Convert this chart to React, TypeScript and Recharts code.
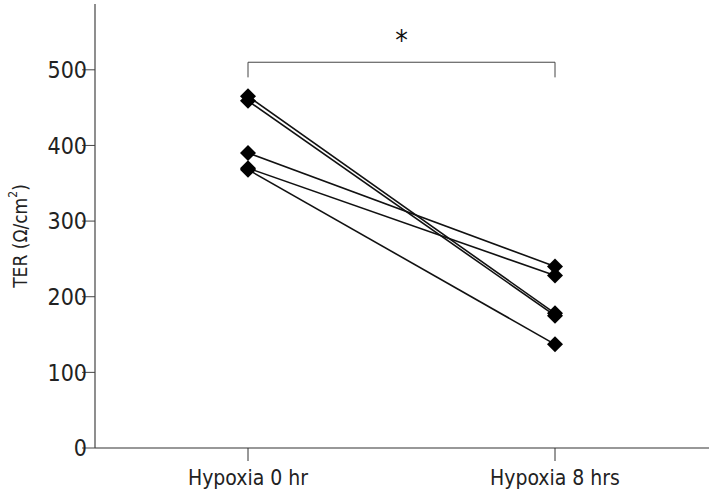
import { LineChart, Line, XAxis, YAxis, ReferenceLine } from 'recharts';

// categories and per-subject values (TER, Ω/cm²)
const timepoints = ['Hypoxia 0 hr', 'Hypoxia 8 hrs'];
const subjectKeys = ['s1', 's2', 's3', 's4', 's5'];
const hr0Values = [465, 459, 390, 370, 368];
const hr8Values = [178, 175, 240, 228, 137];
const yTicks = [0, 100, 200, 300, 400, 500];

const bracketY = 510;
const bracketDrop = 490;

const FONT = '"Liberation Sans Narrow", "DejaVu Sans Condensed", Arial, sans-serif';

const chartData = timepoints.map((t, i) => {
    const row: any = { time: t };
    const vals = i === 0 ? hr0Values : hr8Values;
    subjectKeys.forEach((k, j) => {
        row[k] = vals[j];
    });
    return row;
});

// diamond marker
const Diamond = (props: any) => {
    const { cx, cy, index, dataKey } = props;
    if (cx == null || cy == null) return null;
    const r = 8;
    return (
        <polygon
            key={`${dataKey}-${index}`}
            points={`${cx},${cy - r} ${cx + r},${cy} ${cx},${cy + r} ${cx - r},${cy}`}
            fill="#000"
        />
    );
};

const YLabel = () => {
    const cx = 20;
    const cy = 236;
    return (
        <text
            x={cx}
            y={cy}
            transform={`rotate(-90, ${cx}, ${cy})`}
            textAnchor="middle"
            dominantBaseline="central"
            fill="#222"
            fontSize={19}
            fontFamily={FONT}
        >
            TER (Ω/cm<tspan dy={-7} fontSize={12}>2</tspan>
            <tspan dy={7}>)</tspan>
        </text>
    );
};

export default function App() {
    return (
        <div style={{ position: 'absolute', left: 0, top: 0, background: '#fff' }}>
            <LineChart
                width={714}
                height={496}
                data={chartData}
                margin={{ top: 4, right: 5, left: 0, bottom: 0 }}
            >
                <XAxis
                    dataKey="time"
                    type="category"
                    padding={{ left: 153, right: 154 }}
                    height={48}
                    tickSize={13}
                    tickMargin={9}
                    tick={{ fill: '#222', fontSize: 21, fontFamily: FONT }}
                    axisLine={{ stroke: '#333', strokeWidth: 1.2 }}
                    tickLine={{ stroke: '#333' }}
                />
                <XAxis
                    xAxisId="top"
                    dataKey="time"
                    orientation="top"
                    height={0}
                    tick={false}
                    tickLine={false}
                    axisLine={{ stroke: '#333', strokeWidth: 1.2 }}
                />
                <YAxis
                    domain={[0, 587]}
                    ticks={yTicks}
                    width={95}
                    tickSize={13}
                    tickMargin={-5}
                    tick={{ fill: '#222', fontSize: 23, fontFamily: FONT }}
                    axisLine={{ stroke: '#444', strokeWidth: 1.2 }}
                    tickLine={{ stroke: '#444' }}
                    label={<YLabel />}
                />
                <YAxis
                    yAxisId="right"
                    orientation="right"
                    domain={[0, 587]}
                    width={0}
                    tick={false}
                    tickLine={false}
                    axisLine={{ stroke: '#999', strokeWidth: 1.5 }}
                />
                {/* significance bracket */}
                <ReferenceLine
                    segment={[{ x: timepoints[0], y: bracketY }, { x: timepoints[1], y: bracketY }]}
                    stroke="#444"
                    label={{ value: '*', position: 'top', offset: 12, fontSize: 28, fill: '#111', fontFamily: FONT }}
                />
                <ReferenceLine
                    segment={[{ x: timepoints[0], y: bracketY }, { x: timepoints[0], y: bracketDrop }]}
                    stroke="#444"
                />
                <ReferenceLine
                    segment={[{ x: timepoints[1], y: bracketY }, { x: timepoints[1], y: bracketDrop }]}
                    stroke="#444"
                />
                {subjectKeys.map((k) => (
                    <Line
                        key={k}
                        dataKey={k}
                        type="linear"
                        stroke="#111"
                        strokeWidth={1.6}
                        dot={<Diamond />}
                        activeDot={false}
                        isAnimationActive={false}
                    />
                ))}
            </LineChart>
        </div>
    );
}
